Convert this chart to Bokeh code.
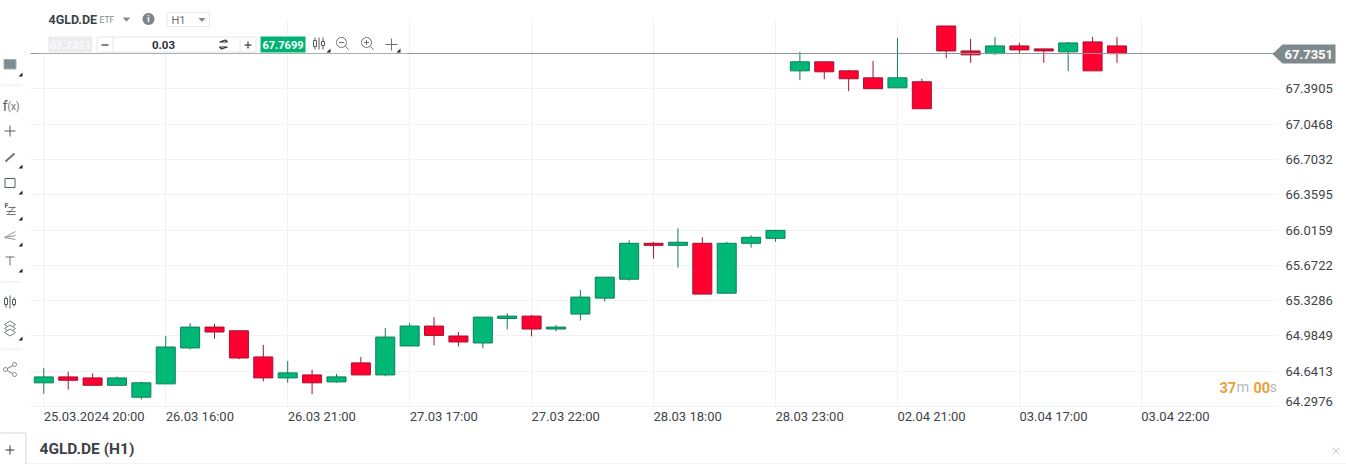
from bokeh.plotting import figure
from bokeh.embed import file_html
from bokeh.resources import INLINE
from bokeh.models import (Range1d, FixedTicker, LinearAxis, Grid, Label,
                          PolyAnnotation, ColumnDataSource)
import math

# ---------- data ----------
opens = [64.528,64.586,64.576,64.504,64.388,64.518,64.868,65.071,65.035,64.780,
         64.576,64.605,64.537,64.722,64.605,64.887,65.081,64.984,64.916,65.155,
         65.178,65.052,65.198,65.353,65.537,65.887,65.867,65.887,65.401,65.887,
         65.935,67.566,67.654,67.566,67.498,67.401,67.460,68.003,67.760,67.734,
         67.809,67.780,67.751,67.848,67.809]
closes = [64.586,64.553,64.504,64.576,64.528,64.877,65.071,65.023,64.770,64.576,
          64.625,64.528,64.586,64.605,64.974,65.081,64.990,64.926,65.168,65.178,
          65.052,65.071,65.363,65.557,65.887,65.867,65.897,65.392,65.887,65.945,
          66.013,67.654,67.557,67.489,67.392,67.498,67.197,67.760,67.722,67.809,
          67.770,67.760,67.838,67.566,67.734]
highs = [64.673,64.637,64.618,64.589,64.540,64.984,65.110,65.101,65.035,64.897,
         64.741,64.654,64.615,64.780,65.062,65.110,65.168,65.023,65.168,65.207,
         65.191,65.091,65.431,65.557,65.916,65.900,66.033,65.945,65.900,65.965,
         66.013,67.751,67.654,67.576,67.663,67.887,67.489,68.003,67.877,67.896,
         67.838,67.780,67.848,67.896,67.896]
lows = [64.424,64.463,64.504,64.504,64.366,64.518,64.851,64.958,64.757,64.543,
        64.528,64.417,64.528,64.605,64.592,64.887,64.893,64.883,64.864,65.048,
        64.980,65.029,65.135,65.320,65.524,65.737,65.650,65.392,65.401,65.844,
        65.902,67.475,67.485,67.368,67.392,67.401,67.197,67.689,67.644,67.722,
        67.731,67.644,67.562,67.566,67.644]

x_label_index = [0, 5, 10, 15, 20, 25, 30, 35, 40, 45]
x_labels = ["25.03.2024 20:00", "26.03 16:00", "26.03 21:00", "27.03 17:00", "27.03 22:00",
            "28.03 18:00", "28.03 23:00", "02.04 21:00", "03.04 17:00", "03.04 22:00"]
price_ticks = [64.2976, 64.6413, 64.9849, 65.3286, 65.6722, 66.0159,
               66.3595, 66.7032, 67.0468, 67.3905, 67.7351]
last_price = 67.7351
ask_price = "67.7699"
volume = "0.03"
symbol = "4GLD.DE"

# ---------- styles ----------
GREEN, GREEN_D = "#00b875", "#0e7d60"
RED, RED_D = "#ff0030", "#a3122f"
GRID = "#f0f2f4"
TXT = "#404548"
ICON = "#6f7478"
FONT = "Roboto"

W, H = 1346, 464
L, R, T, B = 30, 1278, 18, 406
PXX = 24.39
PXY = (price_ticks[-1] - price_ticks[0]) / (B - 53)

# the frame fills the whole canvas, so that the surrounding app chrome can be drawn too
p = figure(width=W, height=H, output_backend="svg", toolbar_location=None,
           x_axis_type=None, y_axis_type=None,
           x_range=Range1d(-43.3 / PXX, (W - 43.3) / PXX),
           y_range=Range1d(price_ticks[0] + (B - H) * PXY, price_ticks[0] + B * PXY),
           min_border_left=0, min_border_right=0, min_border_top=0, min_border_bottom=0)
p.outline_line_color = None
p.background_fill_color = "white"
p.border_fill_color = "white"

xL, xR = (L - 43.3) / PXX, (R - 43.3) / PXX

# grid
p.add_layout(Grid(dimension=0, ticker=FixedTicker(ticks=x_label_index), grid_line_color=GRID))
p.add_layout(Grid(dimension=1, ticker=FixedTicker(ticks=price_ticks), grid_line_color=GRID))

# ---------- chrome helpers (canvas pixels) ----------
def poly(xs, ys, fill=None, line=None, w=1, level="annotation"):
    p.add_layout(PolyAnnotation(xs=list(xs), ys=list(ys), xs_units="canvas", ys_units="canvas",
                                level=level,
                                fill_color=fill, fill_alpha=1 if fill else 0,
                                line_color=line, line_alpha=1 if line else 0, line_width=w))

def box(l, t, r, b, fill=None, line=None, level="annotation"):
    poly([l, r, r, l], [t, t, b, b], fill, line, 1, level)

def seg(x0, y0, x1, y1, c=ICON, w=1):
    poly([x0, x1], [y0, y1], None, c, w)

def circle(cx, cy, r, fill=None, line=None, w=1):
    a = [k * math.pi / 12 for k in range(24)]
    poly([cx + r * math.cos(t) for t in a], [cy + r * math.sin(t) for t in a], fill, line, w)

def txt(x, y, s, size=13, c=TXT, bold=False, align="left", font=FONT):
    p.add_layout(Label(x=x, y=y, x_units="canvas", y_units="canvas", text=s,
                       text_font=font, text_font_size=f"{size}px", text_color=c,
                       text_font_style="bold" if bold else "normal",
                       text_align=align, text_baseline="middle"))

def corner(x, y):
    poly([x - 3, x + 1, x + 1], [y + 1, y + 1, y - 3], "#222222")

def tri(x0, x1, y0, y1, c="#85898c"):
    poly([x0, x1, (x0 + x1) / 2], [y0, y0, y1], c)

# trim the grid to the chart area (below the axes and the marks)
box(0, 0, L, H, "white", level="underlay")
box(R, 0, W, H, "white", level="underlay")
box(0, 0, W, T, "white", level="underlay")
box(0, B + 0.6, W, H, "white", level="underlay")

# axes: tick labels sit left-aligned on the grid line, so the ticks are shifted by half a label
def text_px(s):
    return sum({".": 3.4, ":": 3.2, " ": 3.2}.get(c, 7.3) for c in s)

xticks = [i + text_px(s) / 2 / PXX for i, s in zip(x_label_index, x_labels)]
xax = LinearAxis(ticker=FixedTicker(ticks=xticks), fixed_location=price_ticks[0],
                 major_label_overrides=dict(zip(xticks, x_labels)),
                 axis_line_color=None, major_tick_line_color=None, minor_tick_line_color=None,
                 major_tick_out=0, major_tick_in=0, minor_tick_out=0, minor_tick_in=0,
                 major_label_standoff=2, major_label_text_font=FONT,
                 major_label_text_font_size="13px", major_label_text_color=TXT)
p.add_layout(xax, "below")

shown = list(price_ticks[:-1])
shown[0] = price_ticks[0] + 5 * PXY   # bottom label is pushed up above the frame edge
yax = LinearAxis(ticker=FixedTicker(ticks=shown), fixed_location=xR,
                 major_label_overrides={t: f"{v:.4f}" for t, v in zip(shown, price_ticks)},
                 axis_line_color=None, major_tick_line_color=None, minor_tick_line_color=None,
                 major_tick_out=0, major_tick_in=0, minor_tick_out=0, minor_tick_in=0,
                 major_label_standoff=7, major_label_text_font=FONT,
                 major_label_text_font_size="13px", major_label_text_color=TXT)
p.add_layout(yax, "right")

# candles
idx = list(range(len(opens)))
up = [c >= o for o, c in zip(opens, closes)]
src = ColumnDataSource(dict(
    x=idx, high=highs, low=lows,
    top=[max(o, c) for o, c in zip(opens, closes)],
    bottom=[min(o, c) for o, c in zip(opens, closes)],
    fill=[GREEN if u else RED for u in up],
    edge=[GREEN_D if u else RED_D for u in up]))
p.segment("x", "high", "x", "low", source=src, line_color="edge", line_width=1)
p.vbar("x", top="top", bottom="bottom", width=0.78, source=src,
       fill_color="fill", line_color="edge", line_width=1)

# last price line
p.line([xL, xR], [last_price, last_price], line_color="#8b9599", line_width=1.2)

# covers behind the header
box(37, 36, 408, 52.8, "white")
box(31, 8, 270, 36, "white")

# header row 1
txt(48, 19, symbol, 12.5, "#3c4247", True)
txt(99, 19.5, "ETF", 8.5, "#85898c")
tri(122, 130, 17, 21)
circle(148, 18.5, 6, "#808589")
txt(148, 18.5, "i", 9, "white", True, "center")
box(166.5, 12, 209, 26, "white", "#e4e6e8")
txt(171, 19.5, "H1", 11, "#6a6f73")
tri(198, 205, 17.5, 21.5)

# header row 2
box(48, 36, 91.5, 52, "#ececee")
txt(70, 44, f"{last_price:.4f}", 11, "#fafafa", True, "center")
box(96.5, 36.5, 255.5, 51.5, "white", "#e4e6e8")
seg(112.5, 36.5, 112.5, 51.5, "#e4e6e8")
seg(239.5, 36.5, 239.5, 51.5, "#e4e6e8")
seg(101, 44.5, 108, 44.5, "#555a5e", 1.5)
txt(163, 44, volume, 11.5, "#2e3236", True, "center")
poly([219, 227, 225], [41.5, 41.5, 39.5], None, "#333", 1.2)
poly([219, 227, 221], [46.5, 46.5, 48.5], None, "#333", 1.2)
seg(244, 44.5, 251, 44.5, "#555a5e", 1.5)
seg(247.5, 41, 247.5, 48, "#555a5e", 1.5)
box(260, 36, 305, 52, "#00b373")
txt(282.5, 44, ask_price, 11, "white", True, "center")

# header icons
for x in (314.5, 318.5, 322.5):
    seg(x, 37, x, 49, "#555a5e")
box(313, 40, 316, 46, "white", "#555a5e")
box(321, 41, 324, 45, "white", "#555a5e")
corner(329, 51)
circle(341, 42, 5, None, "#6f7478")
seg(345, 46, 348, 49)
seg(338.5, 42, 343.5, 42)
circle(366, 42, 5, None, "#6f7478")
seg(370, 46, 373, 49)
seg(363.5, 42, 368.5, 42)
seg(366, 39.5, 366, 44.5)
seg(385, 44, 397, 44)
seg(391, 38, 391, 50)
corner(399, 51)

# left toolbar
box(3.5, 59, 15.5, 68.5, "#7e8c92", "#a6adb1")
corner(21, 75)
seg(0, 84.5, 22, 84.5, "#e8eaec")
txt(2, 105, "f", 15, "#5f6468")
txt(7, 106, "(x)", 10, "#6a6f73")
seg(4, 130.5, 15, 130.5, "#555a5e")
seg(9.5, 125, 9.5, 136, "#555a5e")
seg(5, 161, 14, 153, ICON, 2)
corner(21, 167)
box(4.5, 178, 14.5, 187, None, "#555a5e")
corner(21, 193)
txt(4, 205, "F", 7, "#555a5e", True)
seg(8, 207, 15, 207)
seg(6, 211, 15, 211)
seg(6, 214, 15, 214)
seg(8, 213, 14, 206)
corner(21, 219)
seg(4, 237, 15, 231, "#94989b")
seg(4, 237, 15, 235, "#94989b")
seg(4, 237, 15, 239, "#94989b")
corner(21, 245)
seg(5, 256.5, 14, 256.5)
seg(9.5, 256, 9.5, 265)
corner(21, 271)
seg(0, 281.5, 22, 281.5, "#e8eaec")
seg(5.5, 296, 5.5, 307, "#555a5e")
box(4, 298, 7, 304, "white", "#555a5e")
seg(9.5, 295, 9.5, 308, "#555a5e")
seg(13.5, 297, 13.5, 306, "#555a5e")
box(12, 299, 15, 304, "white", "#555a5e")
for y in (324, 328, 332):
    poly([4, 9.5, 15, 9.5], [y, y - 3.5, y, y + 3.5], "white", "#777c80")
corner(21, 339)
seg(0, 348.5, 22, 348.5, "#e8eaec")
seg(5, 369, 14, 364)
seg(5, 369, 14, 374)
circle(5, 369, 2, "white", ICON)
circle(14, 364, 2, "white", ICON)
circle(14, 374, 2, "white", ICON)

# last price tag
poly([1272, 1282, 1335, 1335, 1282], [53.5, 44, 44, 63, 63], "#7f8a8e")
txt(1284, 53.5, f"{last_price:.4f}", 13, "white", True)

# countdown
txt(1219, 387, "37", 14.5, "#e6a23c", True)
txt(1236, 387, "m", 14.5, "#b6babd")
txt(1253, 387, "00", 14.5, "#e6a23c", True)
txt(1269, 387, "s", 14.5, "#b6babd")

# bottom tab bar
seg(0, 432.5, 25, 432.5, "#e8eaec", 2)
seg(25.5, 432, 25.5, 464, "#e8eaec", 2)
seg(25, 463.5, 1346, 463.5, "#e4e6e8", 1)
seg(5, 449.5, 14, 449.5, "#333")
seg(9.5, 445, 9.5, 454, "#333")
txt(39, 448, f"{symbol} (H1)", 15.5, "#3c4247", True)
seg(1332, 447, 1339, 454, "#c4c7c9")
seg(1332, 454, 1339, 447, "#c4c7c9")

open("out.html", "w").write(file_html(p, INLINE))
